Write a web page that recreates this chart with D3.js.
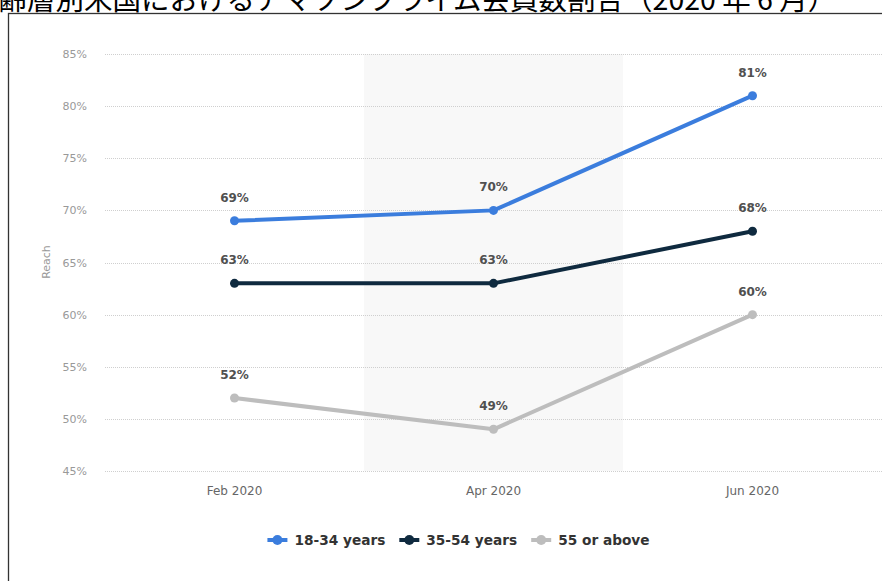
<!DOCTYPE html>
<html>
<head>
<meta charset="utf-8">
<script src="https://cdn.jsdelivr.net/npm/d3@7/dist/d3.min.js"></script>
<style>
  html, body { margin: 0; padding: 0; background: #fff; overflow: hidden; }
  svg { display: block; }
</style>
</head>
<body>
<svg id="chart" width="882" height="581"></svg>
<script>
// Survey months and reach per age group (share of respondents)
const months = ["Feb 2020", "Apr 2020", "Jun 2020"];
const seriesNames = ["18-34 years", "35-54 years", "55 or above"];
const reach1834 = [69, 70, 81];
const reach3554 = [63, 63, 68];
const reach55 = [52, 49, 60];
const yTicks = [45, 50, 55, 60, 65, 70, 75, 80, 85];
const titleText = "年齢層別米国におけるアマゾンプライム会員数割合（2020 年 6 月）";

const colors = ["#3b7ddd", "#0f2a3f", "#bdbdbd"];
const series = seriesNames.map((name, i) => ({
  name,
  color: colors[i],
  values: [reach1834, reach3554, reach55][i]
}));

const svg = d3.select("#chart");
const W = 882, H = 581;

svg.append("rect").attr("width", W).attr("height", H).attr("fill", "#fff");

// Page title (runs off the top and left edge of the page)
svg.append("text")
  .attr("x", -30)
  .attr("y", 10)
  .attr("font-family", "'Noto Sans CJK JP', sans-serif")
  .attr("font-size", 28.5)
  .attr("fill", "#000")
  .text(titleText);

// Frame around the chart
svg.append("rect")
  .attr("x", 8.5).attr("y", 13.5)
  .attr("width", 1000).attr("height", 1000)
  .attr("fill", "none")
  .attr("stroke", "#333")
  .attr("stroke-width", 1.3);

const x = d3.scaleBand().domain(months).range([105, 882]).padding(0);
const y = d3.scaleLinear().domain([45, 85]).range([471, 54]);

// Alternating column shading
svg.append("g").selectAll("rect")
  .data(months.filter((d, i) => i % 2 === 1))
  .join("rect")
  .attr("x", d => x(d))
  .attr("y", y(85))
  .attr("width", x.bandwidth())
  .attr("height", y(45) - y(85))
  .attr("fill", "#f8f8f8");

// Dotted horizontal gridlines
svg.append("g").selectAll("line")
  .data(yTicks)
  .join("line")
  .attr("x1", 105).attr("x2", 882)
  .attr("y1", d => Math.round(y(d)) + 0.5)
  .attr("y2", d => Math.round(y(d)) + 0.5)
  .attr("stroke", "#cfcfcf")
  .attr("stroke-width", 1)
  .attr("stroke-dasharray", "1,1");

// Y axis labels
const yAxis = d3.axisLeft(y).tickValues(yTicks).tickFormat(d => d + "%").tickSize(0).tickPadding(0);
const gy = svg.append("g").attr("transform", "translate(87,0)").call(yAxis);
gy.select(".domain").remove();
gy.selectAll("text")
  .attr("font-family", "'DejaVu Sans', sans-serif")
  .attr("font-size", 11)
  .attr("fill", "#999");

svg.append("text")
  .attr("transform", "translate(50,262) rotate(-90)")
  .attr("text-anchor", "middle")
  .attr("font-family", "'DejaVu Sans', sans-serif")
  .attr("font-size", 11)
  .attr("fill", "#999")
  .text("Reach");

// X axis labels
const xAxis = d3.axisBottom(x).tickSize(0).tickPadding(0);
const gx = svg.append("g").attr("transform", "translate(0,486)").call(xAxis);
gx.select(".domain").remove();
gx.selectAll("text")
  .attr("dy", "0.71em")
  .attr("font-family", "'DejaVu Sans', sans-serif")
  .attr("font-size", 12)
  .attr("fill", "#666");

const cx = m => x(m) + x.bandwidth() / 2;
const line = d3.line()
  .x((d, i) => cx(months[i]))
  .y(d => y(d));

// Lines, markers and value labels
const sg = svg.append("g").selectAll("g").data(series).join("g");
sg.append("path")
  .attr("d", d => line(d.values))
  .attr("fill", "none")
  .attr("stroke", d => d.color)
  .attr("stroke-width", 4)
  .attr("stroke-linejoin", "round");
sg.selectAll("circle")
  .data(d => d.values.map(v => ({ v, color: d.color })))
  .join("circle")
  .attr("cx", (d, i) => cx(months[i]))
  .attr("cy", d => y(d.v))
  .attr("r", 4.5)
  .attr("fill", d => d.color);
sg.selectAll("text.val")
  .data(d => d.values)
  .join("text")
  .attr("class", "val")
  .attr("x", (d, i) => cx(months[i]))
  .attr("y", d => y(d) - 19)
  .attr("text-anchor", "middle")
  .attr("font-family", "'DejaVu Sans', sans-serif")
  .attr("font-weight", "bold")
  .attr("font-size", 12)
  .attr("fill", "#505050")
  .text(d => d + "%");

// Legend
const legend = svg.append("g");
const items = legend.selectAll("g").data(series).join("g");
items.append("line")
  .attr("x1", 0).attr("x2", 20)
  .attr("y1", 0).attr("y2", 0)
  .attr("stroke", d => d.color)
  .attr("stroke-width", 4);
items.append("circle")
  .attr("cx", 10).attr("cy", 0).attr("r", 5)
  .attr("fill", d => d.color);
items.append("text")
  .attr("x", 27)
  .attr("dy", "0.36em")
  .attr("font-family", "'DejaVu Sans', sans-serif")
  .attr("font-weight", "bold")
  .attr("font-size", 13.7)
  .attr("fill", "#333")
  .text(d => d.name);
let offset = 0;
items.each(function () {
  const w = 27 + this.querySelector("text").getComputedTextLength();
  d3.select(this).attr("transform", `translate(${offset},0)`);
  offset += w + 14;
});
const totalW = offset - 14;
legend.attr("transform", `translate(${458.5 - totalW / 2},540)`);
</script>
</body>
</html>
